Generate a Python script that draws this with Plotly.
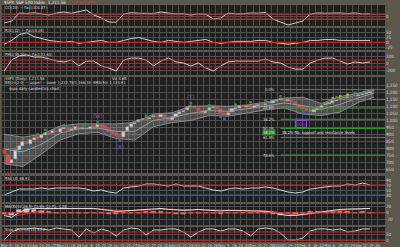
import plotly.graph_objects as go

# ---------------- data ----------------
closes = [760, 690, 720, 790, 815, 845, 830, 860, 875, 870,
          895, 910, 905, 925, 915, 935, 945, 930, 940, 950,
          935, 945, 940, 955, 950, 965, 955, 935, 920, 905,
          890, 880, 920, 950, 975, 990, 1000, 1010, 1005, 1020,
          1030, 1025, 1035, 1015, 1000, 1025, 1045, 1060, 1070, 1095,
          1100, 1085, 1065, 1050, 1070, 1085, 1095, 1080, 1050, 1035,
          1055, 1080, 1090, 1100, 1095, 1105, 1090, 1100, 1110, 1105,
          1120, 1125, 1135, 1145, 1150, 1140, 1145, 1130, 1110, 1095,
          1080, 1070, 1060, 1075, 1090, 1105, 1115, 1125, 1140, 1145,
          1155, 1160, 1165, 1170, 1175, 1180, 1190, 1195, 1205, 1212]
opens = [790, 750, 695, 725, 790, 815, 845, 832, 862, 878,
         872, 897, 912, 907, 927, 917, 937, 947, 932, 942,
         952, 937, 947, 942, 957, 952, 967, 957, 937, 922,
         907, 892, 882, 922, 952, 977, 992, 1002, 1012, 1007,
         1022, 1032, 1027, 1037, 1017, 1002, 1027, 1047, 1062, 1072,
         1097, 1102, 1087, 1067, 1052, 1072, 1087, 1097, 1082, 1052,
         1037, 1057, 1082, 1092, 1102, 1097, 1107, 1092, 1102, 1112,
         1107, 1122, 1127, 1137, 1147, 1152, 1142, 1147, 1132, 1112,
         1097, 1082, 1072, 1062, 1077, 1092, 1107, 1117, 1127, 1142,
         1147, 1157, 1162, 1167, 1172, 1177, 1182, 1192, 1197, 1207]

band_idx = [0, 5, 10, 15, 20, 25, 30, 35, 40, 45, 50, 55, 60, 65, 70, 75, 80, 85, 90, 95, 99]
bb_upper = [900, 880, 900, 960, 975, 975, 975, 985, 1045, 1055, 1100,
            1105, 1100, 1110, 1130, 1160, 1165, 1120, 1170, 1195, 1225]
bb_mid = [795, 775, 830, 910, 940, 945, 922, 922, 1000, 1020, 1050,
          1070, 1065, 1082, 1102, 1125, 1105, 1078, 1115, 1162, 1195]
bb_lower = [690, 670, 760, 860, 905, 915, 870, 860, 955, 985, 1000,
            1035, 1030, 1055, 1075, 1090, 1045, 1035, 1060, 1130, 1165]

ind_idx = list(range(0, 100, 2))
cci = [-260, -180, 140, 120, 150, 100, 60, 140, 180, 130,
       180, 260, 60, -60, -220, -230, 100, 150, 130, 140,
       120, 180, 140, 100, 110, 60, 100, 90, -100, -60,
       140, 100, 110, 140, 130, 160, -100, -220, -340, -260,
       -180, 100, 140, 130, 150, 140, 120, 140, 100, 110]
roc = [-10, 10, 40, 50, 30, 20, 10, 5, 0, 5,
       -5, 0, 5, 10, 0, 0, 10, 20, 25, 15,
       5, 0, 10, 5, 0, 5, 10, 15, 0, -5,
       0, 5, 5, 5, 10, 10, 0, -5, -10, -5,
       0, 10, 10, 15, 15, 10, 10, 10, 10, 10]
pmo = [-215, 100, 215, 245, 185, 185, 130, 70, 45, 100,
       -70, 70, 70, -70, -130, -215, 100, 155, 155, 100,
       -70, 70, 155, 45, 15, -70, 15, -130, -215, -70,
       45, 70, 70, 70, 70, 130, 45, 15, -100, -160,
       -160, 15, 100, 155, 155, 70, -15, 45, 15, 45]
rsi = [30, 42, 54, 54, 54, 58, 54, 58, 58, 58,
       58, 54, 46, 50, 42, 38, 58, 62, 66, 74,
       74, 70, 66, 74, 66, 66, 66, 58, 50, 46,
       54, 58, 54, 58, 58, 62, 58, 50, 42, 38,
       42, 54, 58, 62, 66, 66, 74, 70, 78, 70]
macd = [-8, -14, 2, 11, 14, 14, 14, 14, 14, 12,
        14, 12, 14, 11, 8, 5, 6, 8, 9, 11,
        12, 14, 11, 9, 8, 9, 11, 9, 8, 6,
        8, 8, 8, 8, 6, 5, 2, -5, -8, -8,
        -5, -2, 2, 6, 9, 11, 12, 12, 14, 14]
macd_sig = [-4, -9, -7, -2, 4, 9, 12, 13, 14, 13,
            13, 13, 13, 12, 10, 8, 7, 7, 8, 9,
            10, 12, 12, 11, 10, 9, 10, 10, 9, 8,
            8, 8, 8, 8, 7, 6, 4, 0, -4, -6,
            -6, -4, -1, 2, 5, 8, 10, 11, 12, 13]
stoch = [13, 67, 87, 87, 93, 87, 80, 93, 87, 80,
         33, 87, 60, 87, 73, 40, 80, 93, 87, 47,
         80, 80, 87, 87, 67, 33, 67, 87, 87, 73,
         87, 87, 73, 40, 87, 93, 87, 60, 13, 13,
         27, 73, 87, 87, 80, 87, 67, 73, 87, 87]

week_labels = ["Mar", "9", "16", "23", "30", "Apr", "13", "20", "27", "May",
               "11", "18", "26", "Jun", "8", "15", "22", "29", "Jul", "13",
               "20", "27", "Aug", "10", "17", "24", "31", "Sep", "14", "21",
               "28", "Oct", "12", "19", "26", "Nov", "9", "16", "23", "30",
               "Dec", "14", "21", "28", "2010", "11", "19", "25", "Feb", "8",
               "16", "22", "Mar", "8", "15", "22", "29", "Apr", "12", "19", "26"]
price_ticks = [650, 700, 750, 800, 850, 900, 950, 1000, 1050, 1100, 1150, 1200, 1250]

fib_prices = [1220, 1089, 1008, 943, 878, 752]
fib_labels = ["0.0%", "23.6%", "38.2%", "50.0%", "61.8%", "78.6%"]
fib_start = 74
resist_price = 1150
resist_start = 85

wave_labels = ["[1]", "(W)", "(X)", "(Y)"]
wave_idx = [1, 25, 31, 50]
wave_side = ["low", "high", "low", "high"]
wave_colors = ["#e02828", "#8a50d8", "#8a50d8", "#8a50d8"]

green_idx = [5, 9, 11, 16, 21, 25, 38, 50, 55, 62, 66, 70, 74, 82, 89, 94]
blue_idx = [4, 7, 27, 31, 43, 58, 59, 80, 81]
yellow_idx = [88, 90, 92]

# ---------------- style ----------------
PAPER = "#5b574c"
PANEL = "#1f1f1f"
GRID = "#4e4e4e"
TXT = "#d8d8d8"
RED = "#d42020"
FONT = "Liberation Sans Narrow, DejaVu Sans Condensed, Liberation Sans"
W, H = 400, 247
XL, XR = 2, 385

def dom(top, bot):
    return [1 - bot / H, 1 - top / H]

panels = [(5, 26), (28, 50), (52, 75), (77, 173), (176, 202), (204, 225), (227, 242)]
xrange_ = [-0.6, 102.0]
week_pos = [k * 5 / 3 for k in range(len(week_labels))]

fig = go.Figure()

def ax(n):
    return "" if n == 1 else str(n)

for n, (t, b) in enumerate(panels, start=1):
    fig.layout["xaxis" + ax(n)] = dict(
        domain=[XL / W, XR / W], range=xrange_, anchor="y" + ax(n),
        showgrid=True, gridcolor=GRID, gridwidth=1, zeroline=False,
        tickvals=week_pos, ticktext=week_labels if n == 7 else None,
        showticklabels=(n == 7), ticks="", fixedrange=True, tickangle=0,
        tickfont=dict(size=4, color=TXT, family=FONT), showline=False,
    )
    fig.layout["yaxis" + ax(n)] = dict(
        domain=dom(t, b), anchor="x" + ax(n), side="right",
        showgrid=True, gridcolor=GRID, gridwidth=1, zeroline=False,
        tickfont=dict(size=4.5, color=TXT, family=FONT), ticks="",
        fixedrange=True, showline=False,
    )
    fig.add_shape(type="rect", xref="x" + ax(n) + " domain", yref="y" + ax(n) + " domain",
                  x0=0, x1=1, y0=0, y1=1, fillcolor=PANEL, line=dict(width=0), layer="below")

# panel 1 CCI
fig.update_layout(yaxis=dict(range=[-380, 460], tickvals=[-100, 0, 100], ticktext=["", "0", ""]))
for lv in [100, -100]:
    fig.add_shape(type="line", xref="x domain", yref="y", x0=0, x1=1, y0=lv, y1=lv,
                  line=dict(color=RED, width=1))
fig.add_trace(go.Scatter(x=ind_idx, y=cci, mode="lines", line=dict(color="#d0d0d0", width=1),
                         xaxis="x", yaxis="y", showlegend=False, hoverinfo="skip"))

# panel 2
fig.update_layout(yaxis2=dict(range=[-40, 75], tickvals=[-25, 0, 25, 50], ticktext=["-25", "0", "25", "50"]))
fig.add_shape(type="line", xref="x2 domain", yref="y2", x0=0, x1=1, y0=0, y1=0,
              line=dict(color=RED, width=1))
fig.add_trace(go.Scatter(x=ind_idx, y=roc, mode="lines", line=dict(color="#d0d0d0", width=1),
                         xaxis="x2", yaxis="y2", showlegend=False, hoverinfo="skip"))

# panel 3
fig.update_layout(yaxis3=dict(range=[-330, 330], tickvals=[-200, 0, 200], ticktext=["-200", "0", "200"]))
for lv in [100, -100]:
    fig.add_shape(type="line", xref="x3 domain", yref="y3", x0=0, x1=1, y0=lv, y1=lv,
                  line=dict(color=RED, width=1))
fig.add_trace(go.Scatter(x=ind_idx, y=pmo, mode="lines", line=dict(color="#d0d0d0", width=1),
                         xaxis="x3", yaxis="y3", showlegend=False, hoverinfo="skip"))

# main price panel
fig.update_layout(yaxis4=dict(range=[624, 1310], tickvals=price_ticks, tickformat=",d"))
fig.add_trace(go.Scatter(x=band_idx, y=bb_upper, mode="lines", line=dict(color="#8a8a8a", width=1),
                         xaxis="x4", yaxis="y4", showlegend=False, hoverinfo="skip"))
fig.add_trace(go.Scatter(x=band_idx, y=bb_lower, mode="lines", line=dict(color="#8a8a8a", width=1),
                         fill="tonexty", fillcolor="rgba(170,170,170,0.34)",
                         xaxis="x4", yaxis="y4", showlegend=False, hoverinfo="skip"))
fig.add_trace(go.Scatter(x=band_idx, y=bb_mid, mode="lines", line=dict(color="#9a9a9a", width=1),
                         xaxis="x4", yaxis="y4", showlegend=False, hoverinfo="skip"))

for k, p in enumerate(fib_prices):
    fig.add_shape(type="line", xref="x4", yref="y4", x0=fib_start, x1=102, y0=p, y1=p,
                  line=dict(color="#3aa032", width=1))
    fig.add_annotation(x=fib_start - 1, y=p, xref="x4", yref="y4", text=fib_labels[k],
                       showarrow=False, xanchor="right", yanchor="middle",
                       font=dict(size=4, color=TXT, family=FONT))
fig.add_shape(type="line", xref="x4", yref="y4", x0=resist_start, x1=102, y0=resist_price, y1=resist_price,
              line=dict(color="#3aa032", width=1))

idx = list(range(len(closes)))
up_i = [i for i in idx if closes[i] >= opens[i]]
dn_i = [i for i in idx if closes[i] < opens[i]]
fig.add_trace(go.Bar(x=up_i, y=[closes[i] - opens[i] for i in up_i], base=[opens[i] for i in up_i],
                     marker=dict(color="#ececec", line=dict(color="#9a9a9a", width=0.5)), width=0.85,
                     xaxis="x4", yaxis="y4", showlegend=False, hoverinfo="skip"))
fig.add_trace(go.Bar(x=dn_i, y=[closes[i] - opens[i] for i in dn_i], base=[opens[i] for i in dn_i],
                     marker=dict(color="#e02424", line=dict(color="#e02424", width=0.5)), width=0.85,
                     xaxis="x4", yaxis="y4", showlegend=False, hoverinfo="skip"))

fig.add_trace(go.Scatter(x=green_idx, y=[max(opens[i], closes[i]) + 22 for i in green_idx], mode="markers",
                         marker=dict(symbol="square", size=2.5, color="#2e9a2e", line=dict(width=0)),
                         xaxis="x4", yaxis="y4", showlegend=False, hoverinfo="skip"))
fig.add_trace(go.Scatter(x=blue_idx, y=[min(opens[i], closes[i]) - 25 for i in blue_idx], mode="markers",
                         marker=dict(symbol="square", size=2.5, color="#2f70b8", line=dict(width=0)),
                         xaxis="x4", yaxis="y4", showlegend=False, hoverinfo="skip"))
fig.add_trace(go.Scatter(x=yellow_idx, y=[max(opens[i], closes[i]) + 18 for i in yellow_idx], mode="markers",
                         marker=dict(symbol="square", size=2.5, color="#b8b030", line=dict(width=0)),
                         xaxis="x4", yaxis="y4", showlegend=False, hoverinfo="skip"))

for lab, i, side, c in zip(wave_labels, wave_idx, wave_side, wave_colors):
    if side == "high":
        yv, ya = max(opens[i], closes[i]) + 30, "bottom"
    else:
        yv, ya = min(opens[i], closes[i]) - 30, "top"
    fig.add_annotation(x=i, y=yv, xref="x4", yref="y4", text=lab, showarrow=False,
                       yanchor=ya, font=dict(size=6, color=c, family=FONT))

# RSI
fig.update_layout(yaxis5=dict(range=[2, 106], tickvals=[30, 50, 70, 90], ticktext=["30", "50", "70", "90"]))
fig.add_shape(type="line", xref="x5 domain", yref="y5", x0=0, x1=1, y0=70, y1=70, line=dict(color=RED, width=1))
fig.add_shape(type="line", xref="x5 domain", yref="y5", x0=0, x1=1, y0=30, y1=30, line=dict(color="#2a7090", width=1))
fig.add_trace(go.Scatter(x=ind_idx, y=rsi, mode="lines", line=dict(color="#d0d0d0", width=1),
                         xaxis="x5", yaxis="y5", showlegend=False, hoverinfo="skip"))

# MACD
fig.update_layout(yaxis6=dict(range=[-38, 28], tickvals=[-20, 0, 20], ticktext=["-20", "0", "20"]))
fig.add_trace(go.Bar(x=ind_idx, y=[m - s for m, s in zip(macd, macd_sig)], marker=dict(color="#bdbdbd"),
                     width=1.2, xaxis="x6", yaxis="y6", showlegend=False, hoverinfo="skip"))
fig.add_shape(type="line", xref="x6 domain", yref="y6", x0=0, x1=1, y0=0, y1=0, line=dict(color=RED, width=1))
fig.add_trace(go.Scatter(x=ind_idx, y=macd_sig, mode="lines", line=dict(color="#e03030", width=1),
                         xaxis="x6", yaxis="y6", showlegend=False, hoverinfo="skip"))
fig.add_trace(go.Scatter(x=ind_idx, y=macd, mode="lines", line=dict(color="#e0e0e0", width=1),
                         xaxis="x6", yaxis="y6", showlegend=False, hoverinfo="skip"))

# last panel
fig.update_layout(yaxis7=dict(range=[0, 100], tickvals=[13, 50], ticktext=["0", "50"]))
for lv in [67, 13]:
    fig.add_shape(type="line", xref="x7 domain", yref="y7", x0=0, x1=1, y0=lv, y1=lv,
                  line=dict(color=RED, width=1))
fig.add_trace(go.Scatter(x=ind_idx, y=stoch, mode="lines", line=dict(color="#d0d0d0", width=1),
                         xaxis="x7", yaxis="y7", showlegend=False, hoverinfo="skip"))

# header texts
def note(x, y, text, color=TXT, size=4):
    fig.add_annotation(x=x / W, y=1 - y / H, xref="paper", yref="paper", text=text, showarrow=False,
                       xanchor="left", yanchor="middle", font=dict(size=size, color=color, family=FONT))

note(2, 2.5, "$SPX S&P 500 Index  1,211.56", "#f0f0f0", 4.5)
note(68, 2.5, "-5.99 -0.49%", "#e03030", 4.5)
note(3, 8, "CCI(20) — Fast(104.87)")
note(3, 30.5, "ROC(12) — Fast(4.04)")
note(3, 54, "PMO(35,20) — Fast(33.60)")
note(3, 78.5, "$SPX (Daily) 1,211.56")
note(110, 78.5, "Vol 4.6B")
note(3, 82.5, "BB(20,2.0) — upper — lower 1,222.78/1,166.30  SMA(50) 1,134.91")
note(7, 89, "$spx daily candlestick chart", "#e8e8e8", 4)
note(280, 132, "38.2% Fib. support and resistance levels", "#e8e8e8", 4)
fig.add_annotation(x=262 / W, y=1 - 132 / H, xref="paper", yref="paper", text="38.2%", showarrow=False,
                   xanchor="left", bgcolor="#2e8a2e", font=dict(size=4, color="#e8e8e8", family=FONT), borderpad=0)
fig.add_annotation(x=307 / W, y=1 - 124 / H, xref="paper", yref="paper", text="(XX)", showarrow=False,
                   bordercolor="#8a50d8", borderwidth=1, font=dict(size=5, color="#8a50d8", family=FONT), borderpad=0)
note(3, 178, "RSI(14) 66.91")
note(3, 206, "MACD(12,26,9) 13.99, 12.71, 1.28")
note(3, 229, "Slow STO %K(14) 87.2")

fig.update_layout(
    width=W, height=H, margin=dict(l=0, r=0, t=0, b=0),
    paper_bgcolor=PAPER, plot_bgcolor=PANEL, barmode="overlay", bargap=0,
    font=dict(family=FONT, size=5, color=TXT),
)
fig.write_html("out.html")
